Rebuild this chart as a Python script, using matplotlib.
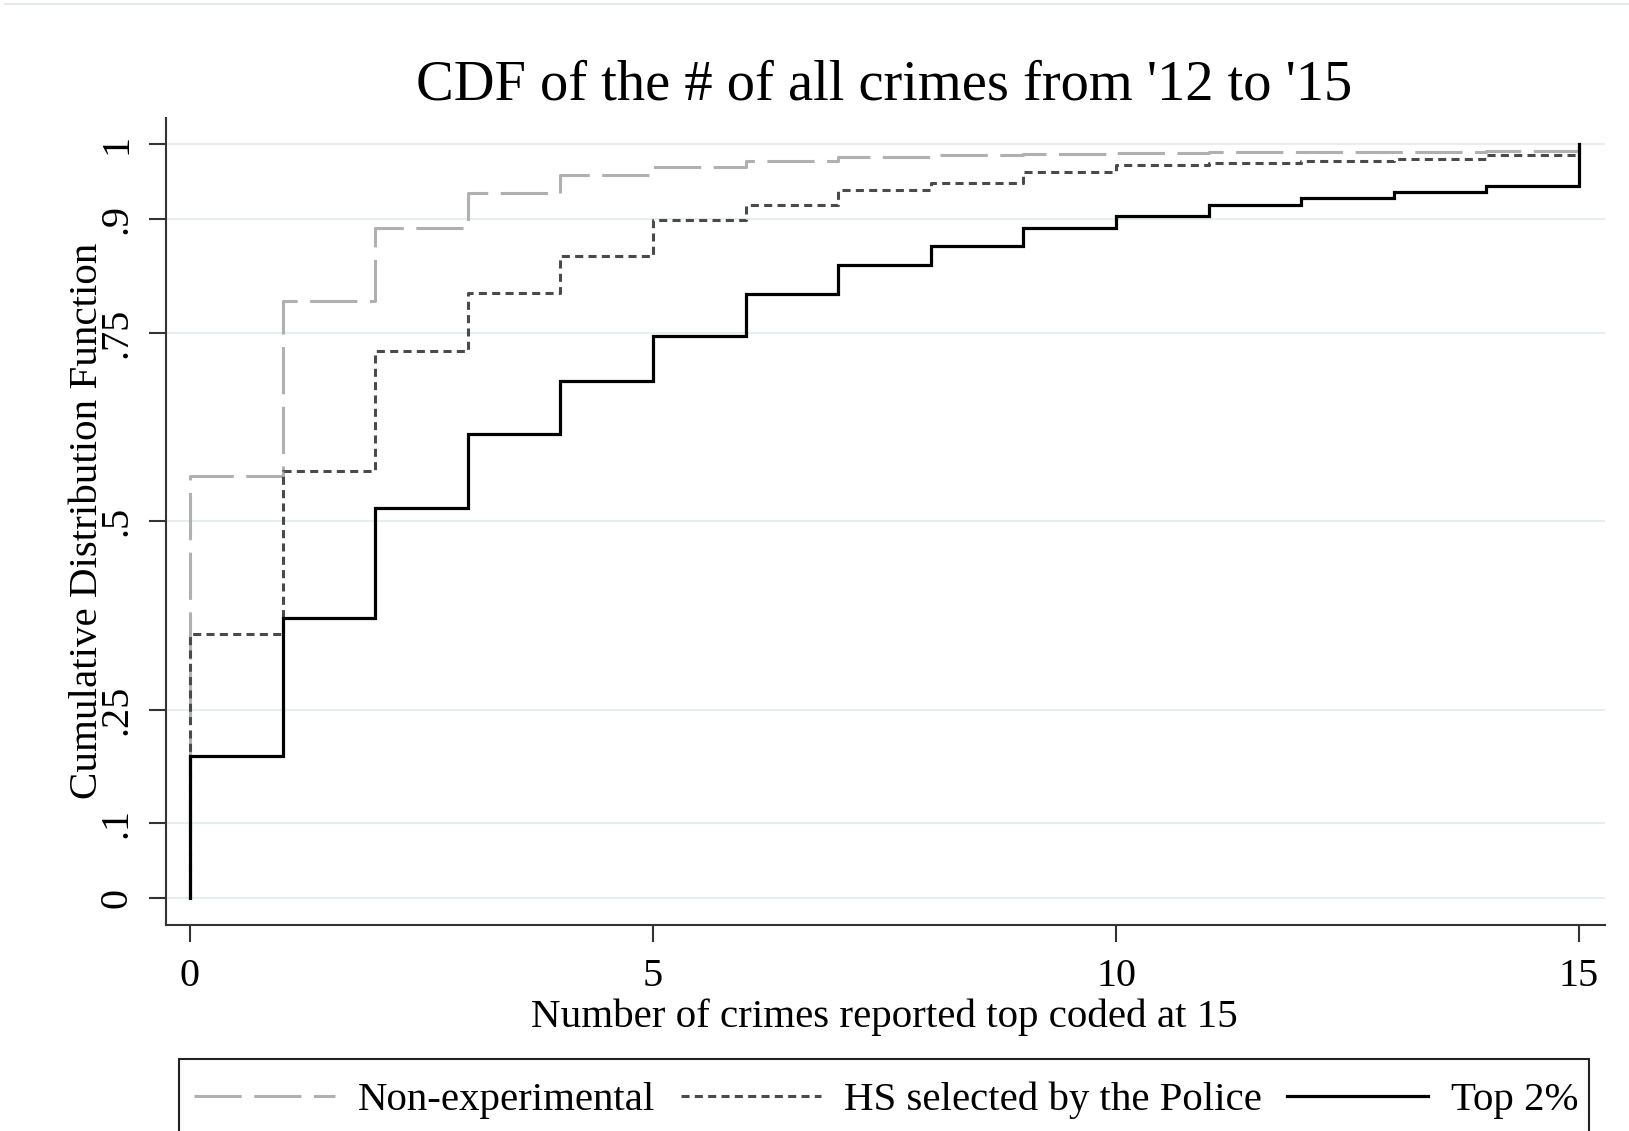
import matplotlib
matplotlib.use('Agg')
import matplotlib.pyplot as plt
from matplotlib.lines import Line2D
from matplotlib.patches import Rectangle

# CDF values by number of crimes reported (top coded at 15)
crimes = list(range(16))
non_experimental = [0.560, 0.792, 0.889, 0.935, 0.959, 0.969, 0.978, 0.983,
                    0.985, 0.987, 0.988, 0.989, 0.990, 0.990, 0.991, 1.0]
hs_police = [0.351, 0.566, 0.726, 0.803, 0.852, 0.899, 0.919, 0.939,
             0.948, 0.963, 0.972, 0.975, 0.977, 0.980, 0.985, 1.0]
top_2pct = [0.188, 0.372, 0.517, 0.615, 0.686, 0.745, 0.801, 0.840,
            0.865, 0.889, 0.905, 0.919, 0.928, 0.937, 0.945, 1.0]

series_names = ['Non-experimental', 'HS selected by the Police', 'Top 2%']
y_ticks = [0, 0.1, 0.25, 0.5, 0.75, 0.9, 1]
y_tick_labels = ['0', '.1', '.25', '.5', '.75', '.9', '1']
x_ticks = [0, 5, 10, 15]

plt.rcParams['font.family'] = ['Liberation Serif', 'DejaVu Serif']
plt.rcParams['lines.scale_dashes'] = False

W, H = 1629, 1131
fig = plt.figure(figsize=(W / 100, H / 100), dpi=100)
fig.patch.set_facecolor('white')

# axes box in pixel terms: left 166, right 1604, top 118, bottom 925
ax = fig.add_axes([166 / W, 1 - 925 / H, (1604.5 - 166) / W, (925 - 118) / H])

styles = [
    dict(color='#b0b0b0', lw=2.2, linestyle=(0, (34, 9))),
    dict(color='#4a4a4a', lw=2.2, linestyle=(0, (5.8, 3.8))),
    dict(color='black', lw=2.3, linestyle='-'),
]
handles = []
for vals, name, st in zip([non_experimental, hs_police, top_2pct], series_names, styles):
    xs = [0] + crimes
    ys = [0] + vals
    ln, = ax.step(xs, ys, where='post', label=name, solid_joinstyle='miter', **st)
    handles.append(ln)

ax.set_xlim(-0.259, 15.275)
ax.set_ylim(-0.0354, 1.0345)

for y in y_ticks:
    ax.axhline(y, color='#e6eef0', lw=1.5, zorder=0)

for side in ['top', 'right']:
    ax.spines[side].set_visible(False)
for side in ['left', 'bottom']:
    ax.spines[side].set_color('#333333')
    ax.spines[side].set_linewidth(1.5)

ax.set_xticks(x_ticks)
ax.set_xticklabels([str(t) for t in x_ticks])
ax.set_yticks(y_ticks)
ax.set_yticklabels(y_tick_labels)
ax.tick_params(axis='both', direction='out', length=12, width=1.5, color='#333333',
               labelsize=29)
ax.tick_params(axis='x', pad=12)
ax.tick_params(axis='y', pad=10, labelrotation=90)
for lab in ax.get_yticklabels():
    lab.set_verticalalignment('center')

fig.text(884 / W, 1 - 99 / H, "CDF of the # of all crimes from '12 to '15",
         ha='center', va='baseline', fontsize=40.7)
fig.text(884 / W, 1 - 1027 / H, 'Number of crimes reported top coded at 15',
         ha='center', va='baseline', fontsize=29.5)
fig.text(96.7 / W, 1 - 520.5 / H, 'Cumulative Distribution Function',
         rotation=90, rotation_mode='anchor', ha='center', va='baseline', fontsize=29.5)

# legend box runs off the bottom edge of the figure
fig.add_artist(Rectangle((179 / W, -0.05), (1589 - 179) / W, 0.05 + 1 - 1059 / H,
                         transform=fig.transFigure, facecolor='white',
                         edgecolor='#222222', lw=1.5))
leg = fig.legend(handles=handles, labels=series_names, loc='upper left',
                 bbox_to_anchor=(179 / W, 1 - 1066.5 / H), ncol=3, fontsize=29.4,
                 handlelength=3.45, handletextpad=0.56, columnspacing=0.62,
                 borderpad=0.37, borderaxespad=0, frameon=False)

# faint rule across the top
fig.add_artist(Line2D([5 / W, 1], [1 - 4 / H, 1 - 4 / H], transform=fig.transFigure,
                      color='#e4e9eb', lw=1.5))

fig.savefig('out.png', dpi=100)
